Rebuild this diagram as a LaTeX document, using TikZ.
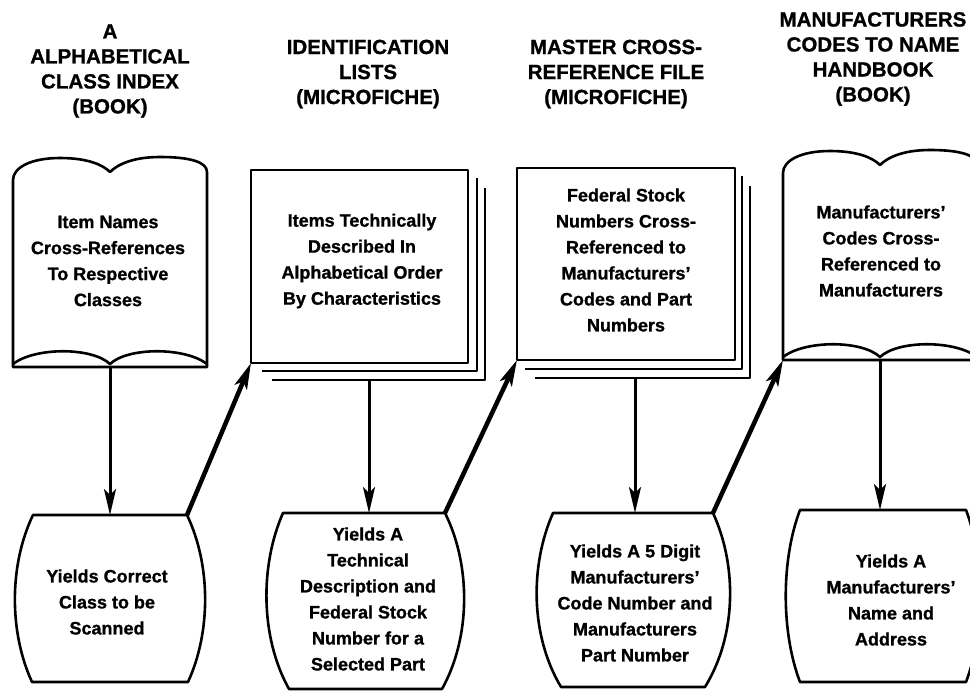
\documentclass[tikz,border=0pt]{standalone}
\usepackage{fontspec}
\setmainfont{Liberation Sans}[BoldFeatures={FakeBold=1}]
\usetikzlibrary{arrows.meta}
\newcommand{\bookdraw}{%
  \draw[outl,fill=white] (0,0) -- (0,-187) .. controls (0,-199) and (17,-209) .. (47,-209)
    .. controls (75,-209) and (90,-202) .. (97,-195)
    .. controls (104,-202) and (119,-210) .. (147,-210)
    .. controls (177,-210) and (194,-205) .. (194,-195) -- (194,0) -- cycle;
  \draw[outl] (0,-3) .. controls (22,-20) and (79,-20) .. (97,-3)
    .. controls (115,-20) and (172,-20) .. (194,-3);
}
\begin{document}
\begin{tikzpicture}[x=1pt,y=-1pt,
  outl/.style={line width=2.6pt,line join=round},
  hdr/.style={font=\fontsize{20.5}{25}\selectfont\bfseries,align=center,inner sep=0pt},
  body/.style={font=\fontsize{18}{26}\selectfont\bfseries,align=center,inner sep=0pt},
  varr/.style={line width=3pt,-{Stealth[length=26pt,width=12pt,inset=6pt]}},
  darr/.style={line width=4.5pt,-{Stealth[length=26pt,width=13pt,inset=6pt]}}]
\useasboundingbox (0,0) rectangle (970,691);
\clip (0,0) rectangle (970,691);
\fill[white] (0,0) rectangle (970,691);

% headers
\node[hdr] (h1) at (110,71) {A\\ALPHABETICAL\\CLASS INDEX\\(BOOK)};
\node[hdr] (h2) at (368,74) {IDENTIFICATION\\LISTS\\(MICROFICHE)};
\node[hdr] (h3) at (616,74) {MASTER CROSS-\\REFERENCE FILE\\(MICROFICHE)};
\node[hdr] (h4) at (873,59) {MANUFACTURERS\\CODES TO NAME\\HANDBOOK\\(BOOK)};

% book 1
\begin{scope}[shift={(13,367)}]\bookdraw\end{scope}
% book 4
\begin{scope}[shift={(783,360)}]\bookdraw\end{scope}

% microfiche stack 1
\draw[outl] (272,380) -- (485,380) -- (485,188);
\draw[outl] (262,371) -- (477,371) -- (477,178);
\draw[outl,fill=white] (251,170) rectangle (468,363);
% microfiche stack 2
\draw[outl] (535,378) -- (750,378) -- (750,186);
\draw[outl] (525,369) -- (742,369) -- (742,176);
\draw[outl,fill=white] (517,168) rectangle (735,360);

% barrels
\draw[outl] (33,515) -- (187,515) .. controls (211,565) and (211,632) .. (188,682)
  -- (32,682) .. controls (9,632) and (9,565) .. (33,515) -- cycle;
\draw[outl] (283,513) -- (445,513) .. controls (471,565) and (471,637) .. (442,689)
  -- (289,689) .. controls (260,637) and (260,565) .. (283,513) -- cycle;
\draw[outl] (553,513) -- (713,513) .. controls (737,565) and (737,635) .. (705,687)
  -- (561,687) .. controls (530,635) and (530,565) .. (553,513) -- cycle;
\draw[outl] (800,510) -- (966,510) .. controls (985,560) and (985,632) .. (966,682)
  -- (800,682) .. controls (781,632) and (781,560) .. (800,510) -- cycle;

% texts
\node[body] (t1) at (108,261) {Item Names\\Cross-References\\To Respective\\Classes};
\node[body] (t2) at (362,261) {Items Technically\\Described In\\Alphabetical Order\\By Characteristics};
\node[body] (t3) at (626,260) {Federal Stock\\Numbers Cross-\\Referenced to\\Manufacturers’\\Codes and Part\\Numbers};
\node[body] (t4) at (881,251) {Manufacturers’\\Codes Cross-\\Referenced to\\Manufacturers};
\node[body] (u1) at (107,602) {Yields Correct\\Class to be\\Scanned};
\node[body] (u2) at (368,599) {Yields A\\Technical\\Description and\\Federal Stock\\Number for a\\Selected Part};
\node[body] (u3) at (635,603) {Yields A 5 Digit\\Manufacturers’\\Code Number and\\Manufacturers\\Part Number};
\node[body] (u4) at (891,600) {Yields A\\Manufacturers’\\Name and\\Address};

% connector end points
\coordinate (b1s) at (110,367);  \coordinate (r1n) at (110,515);
\coordinate (r1ne) at (187,515); \coordinate (m1sw) at (251,363);
\coordinate (m1s) at (369,380);  \coordinate (r2n) at (369,513);
\coordinate (r2ne) at (445,513); \coordinate (m2sw) at (517,360);
\coordinate (m2s) at (635,378);  \coordinate (r3n) at (635,513);
\coordinate (r3ne) at (713,513); \coordinate (b2sw) at (783,360);
\coordinate (b2s) at (880,360);  \coordinate (r4n) at (880,510);

\draw[varr] (b1s) -- (r1n);
\draw[darr] (r1ne) -- (m1sw);
\draw[varr] (m1s) -- (r2n);
\draw[darr] (r2ne) -- (m2sw);
\draw[varr] (m2s) -- (r3n);
\draw[darr] (r3ne) -- (b2sw);
\draw[varr] (b2s) -- (r4n);
\end{tikzpicture}
\end{document}
